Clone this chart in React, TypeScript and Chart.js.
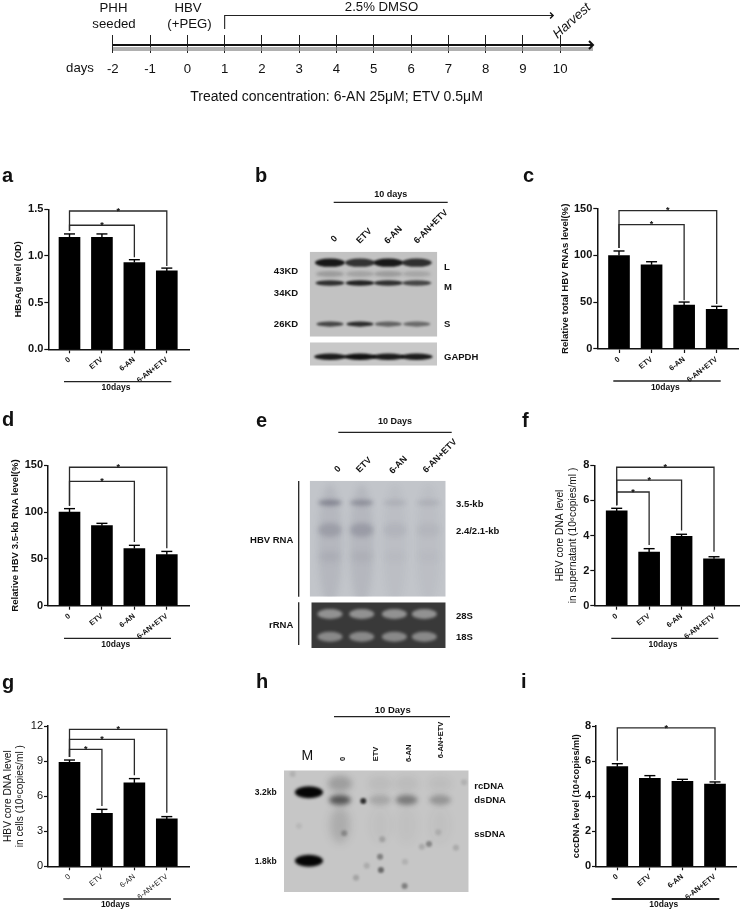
import React, { useEffect, useRef } from "react";
import { Chart } from "chart.js/auto";

const FONT = '"Liberation Sans", Arial, sans-serif';
const W = 740;
const H = 911;

// ---------- data ----------
const categories = ["0", "ETV", "6-AN", "6-AN+ETV"];
const groupLabel = "10days";

const aValues = [1.2, 1.2, 0.93, 0.84];
const aErrors = [0.036, 0.036, 0.03, 0.03];
const aBrackets = [{ to: 3, top: 1.482, drop: 0.893 }, { to: 2, top: 1.329, drop: 0.986 }];

const cValues = [100, 90, 47, 42.5];
const cErrors = [4.8, 3.3, 3.2, 3.1];
const cBrackets = [{ to: 3, top: 147.9, drop: 48 }, { to: 2, top: 132.9, drop: 52 }];

const dValues = [100, 85.5, 61, 54.5];
const dErrors = [3.7, 2.5, 3.5, 3.5];
const dBrackets = [{ to: 3, top: 147.9, drop: 61.3 }, { to: 2, top: 132.9, drop: 68 }];

const fValues = [5.4, 3.05, 3.95, 2.67];
const fErrors = [0.15, 0.2, 0.12, 0.12];
const fBrackets = [{ to: 3, top: 7.89, drop: 3.08 }, { to: 2, top: 7.16, drop: 4.28 }, { to: 1, top: 6.48, drop: 3.46 }];

const gValues = [8.89, 4.53, 7.13, 4.05];
const gErrors = [0.2, 0.34, 0.37, 0.2];
const gBrackets = [{ to: 3, top: 11.71, drop: 4.59 }, { to: 2, top: 10.86, drop: 7.78 }, { to: 1, top: 10.0, drop: 5.16 }];

const iValues = [5.68, 5.02, 4.85, 4.69];
const iErrors = [0.17, 0.15, 0.11, 0.12];
const iBrackets = [{ to: 3, top: 7.89, drop: 4.92 }];

const timelineDays = [-2, -1, 0, 1, 2, 3, 4, 5, 6, 7, 8, 9, 10];

// blot lanes and band strengths (position as % of the membrane)
const bLanes = [15.9, 39.4, 61.6, 83.9];
const bL = [0.92, 0.78, 0.92, 0.8];
const bFaint = [0.22, 0.18, 0.22, 0.16];
const bM = [0.8, 0.88, 0.8, 0.68];
const bS = [0.68, 0.82, 0.52, 0.48];
const bGapdh = [0.9, 0.95, 0.9, 0.9];

const eLanes = [14.9, 38.2, 62.7, 87.2];
const eSmear = [0.1, 0.1, 0.05, 0.05];
const e35 = [0.38, 0.3, 0.1, 0.1];
const e24 = [0.2, 0.22, 0.07, 0.06];
const eLow = [0.09, 0.07, 0.03, 0.03];
const rLanes = [13.9, 37.5, 61.8, 84.1];
const r28 = [0.5, 0.5, 0.5, 0.5];
const r18 = [0.45, 0.45, 0.45, 0.45];

const hMarkerX = 13.5;
const hMarkerY = [18, 74.3];
const hLanes = [30.3, 52, 66.4, 84.5];
const hDs = [0.62, 0.18, 0.42, 0.28];
const hRc = [0.25, 0.06, 0.06, 0.05];
const hSmear = [0.16, 0.03, 0.04, 0.03];
const hSpots = [
  { x: 42.9, y: 25.2, v: 0.9 }, { x: 32.6, y: 51.8, v: 0.28 }, { x: 53.2, y: 56.7, v: 0.2 },
  { x: 78.5, y: 60.6, v: 0.38 }, { x: 74.6, y: 62.8, v: 0.16 }, { x: 83.5, y: 50.9, v: 0.12 },
  { x: 93.1, y: 63.6, v: 0.16 }, { x: 52, y: 71, v: 0.42 }, { x: 52.5, y: 81.9, v: 0.55 },
  { x: 44.8, y: 78.4, v: 0.15 }, { x: 39, y: 88.3, v: 0.2 }, { x: 65.5, y: 75.1, v: 0.12 },
  { x: 65.3, y: 95.1, v: 0.42 }, { x: 4.7, y: 3, v: 0.12 }, { x: 97.5, y: 9.9, v: 0.12 }, { x: 8.1, y: 45.8, v: 0.08 },
];

const row = (lanes: number[], y: number, vals: number[]) => vals.map((v, i) => ({ x: lanes[i], y, v }));

// ---------- text helper ----------
type TOpt = { font?: string; align?: CanvasTextAlign; rot?: number; base?: CanvasTextBaseline };
function T(ctx: CanvasRenderingContext2D, s: string, x: number, y: number, o: TOpt = {}) {
  ctx.save();
  ctx.translate(x, y);
  if (o.rot) ctx.rotate((o.rot * Math.PI) / 180);
  ctx.font = o.font || `bold 9.5px ${FONT}`;
  ctx.textAlign = o.align || "center";
  ctx.textBaseline = o.base || "middle";
  ctx.fillStyle = "#111";
  ctx.fillText(s, 0, 0);
  ctx.restore();
}
function L(ctx: CanvasRenderingContext2D, x1: number, y1: number, x2: number, y2: number, w = 1.2, c = "#222") {
  ctx.save();
  ctx.strokeStyle = c;
  ctx.lineWidth = w;
  ctx.beginPath();
  ctx.moveTo(x1, y1);
  ctx.lineTo(x2, y2);
  ctx.stroke();
  ctx.restore();
}

// ---------- bar panels ----------
type BarCfg = {
  values: number[]; errors: number[]; brackets: { to: number; top: number; drop: number }[];
  max: number; step: number; decimals: number; title: string[]; titleX: number; titleWeight: string; titleSize: number; tickFont: string;
  axisX: number; xEnd: number; top: number; bottom: number; c0: number; c3: number;
  line: [number, number, number]; labelX: number; labelY: number; lineW?: number;
};
const barPanels: BarCfg[] = [
  { values: aValues, errors: aErrors, brackets: aBrackets, max: 1.5, step: 0.5, decimals: 1, title: ["HBsAg level (OD)"], titleX: 19, titleWeight: "bold", titleSize: 9.2, tickFont: "bold",
    axisX: 48.3, xEnd: 189, top: 209.3, bottom: 349.3, c0: 69.5, c3: 166.8, line: [64, 171.3, 381.7], labelX: 116, labelY: 387.7 },
  { values: cValues, errors: cErrors, brackets: cBrackets, max: 150, step: 50, decimals: 0, title: ["Relative total HBV RNAs level(%)"], titleX: 565, titleWeight: "bold", titleSize: 9.6, tickFont: "bold",
    axisX: 597.3, xEnd: 738.7, top: 208.7, bottom: 349, c0: 619, c3: 716.7, line: [613.3, 720.7, 381], labelX: 665.3, labelY: 387.7 },
  { values: dValues, errors: dErrors, brackets: dBrackets, max: 150, step: 50, decimals: 0, title: ["Relative HBV 3.5-kb RNA level(%)"], titleX: 15, titleWeight: "bold", titleSize: 9.6, tickFont: "bold",
    axisX: 48, xEnd: 189, top: 465.3, bottom: 605.7, c0: 69.5, c3: 166.8, line: [64, 171, 638.3], labelX: 115.7, labelY: 644.3 },
  { values: fValues, errors: fErrors, brackets: fBrackets, max: 8, step: 2, decimals: 0, title: ["HBV core DNA level", "in supernatant (10\u2076copies/ml )"], titleX: 560, titleWeight: "normal", titleSize: 10.2, tickFont: "bold",
    axisX: 594.3, xEnd: 740, top: 465.3, bottom: 605.7, c0: 616.7, c3: 714, line: [611.3, 718.3, 638.3], labelX: 663, labelY: 644.3 },
  { values: gValues, errors: gErrors, brackets: gBrackets, max: 12, step: 3, decimals: 0, title: ["HBV core DNA level", "in cells (10\u2076copies/ml )"], titleX: 7.3, titleWeight: "normal", titleSize: 10.2, tickFont: "normal",
    axisX: 48, xEnd: 189, top: 726, bottom: 866.3, c0: 69.5, c3: 166.8, line: [63.3, 171, 899], labelX: 115.3, labelY: 905 },
  { values: iValues, errors: iErrors, brackets: iBrackets, max: 8, step: 2, decimals: 0, title: ["cccDNA level (10\u2074copies/ml)"], titleX: 576.7, titleWeight: "bold", titleSize: 9.2, tickFont: "bold",
    axisX: 596, xEnd: 736, top: 726, bottom: 866.3, c0: 617.3, c3: 715, line: [611.7, 719.3, 899], labelX: 663.7, labelY: 905, lineW: 2 },
];

function makeBar(canvas: HTMLCanvasElement, p: BarCfg) {
  const s = (p.c3 - p.c0) / 3;
  const overlay = {
    id: "overlay",
    afterDatasetsDraw(chart: any) {
      const { ctx, scales: { x, y } } = chart;
      // error bars
      p.values.forEach((v, i) => {
        const cx = x.getPixelForValue(i);
        const ty = y.getPixelForValue(v + p.errors[i]);
        L(ctx, cx, y.getPixelForValue(v), cx, ty, 1.4, "#000");
        L(ctx, cx - 5.5, ty, cx + 5.5, ty, 1.4, "#000");
      });
      // significance brackets
      const x0 = x.getPixelForValue(0);
      const leftEnd = y.getPixelForValue(p.values[0] + p.errors[0]) - 3;
      p.brackets.forEach((b) => {
        const yy = y.getPixelForValue(b.top);
        const xx = x.getPixelForValue(b.to);
        ctx.save();
        ctx.strokeStyle = "#2a2a2a";
        ctx.lineWidth = 1.3;
        ctx.beginPath();
        ctx.moveTo(x0, leftEnd);
        ctx.lineTo(x0, yy);
        ctx.lineTo(xx, yy);
        ctx.lineTo(xx, y.getPixelForValue(b.drop));
        ctx.stroke();
        ctx.restore();
        T(ctx, "*", (x0 + xx) / 2, yy + 2.7, { font: `bold 9px ${FONT}`, base: "alphabetic" });
      });
      // group line
      L(ctx, p.line[0], p.line[2], p.line[1], p.line[2], p.lineW || 1.3, "#222");
      T(ctx, groupLabel, p.labelX, p.labelY, { font: `bold 8.5px ${FONT}` });
    },
  };
  return new Chart(canvas, {
    type: "bar",
    data: {
      datasets: [{
        data: p.values.map((v, i) => ({ x: i, y: v })),
        backgroundColor: "#000",
        barThickness: 21,
      }],
    } as any,
    options: {
      responsive: false,
      animation: false,
      devicePixelRatio: 1,
      layout: { padding: { left: 0, top: p.top, right: W - p.xEnd, bottom: H - p.bottom - 40 } },
      plugins: { legend: { display: false }, tooltip: { enabled: false } },
      scales: {
        x: {
          type: "linear",
          offset: false,
          min: -(p.c0 - p.axisX) / s,
          max: 3 + (p.xEnd - p.c3) / s,
          grid: { offset: false, drawOnChartArea: false, tickLength: 4, tickColor: "#111", tickWidth: 1.2 },
          border: { color: "#111", width: 1.5 },
          afterFit: (sc: any) => { sc.height = 40; sc.paddingLeft = 0; sc.paddingRight = 0; },
          ticks: {
            stepSize: 1,
            includeBounds: false,
            autoSkip: false,
            maxRotation: 38,
            minRotation: 38,
            padding: 2,
            color: "#111",
            font: { family: FONT, size: 7.5, weight: p.tickFont === "bold" ? "bold" : "normal" },
            callback: (v: any) => categories[v] ?? "",
          },
        },
        y: {
          min: 0,
          max: p.max,
          grid: { drawOnChartArea: false, tickLength: 4, tickColor: "#111", tickWidth: 1.2 },
          border: { color: "#111", width: 1.5 },
          afterFit: (sc: any) => { sc.width = p.axisX; sc.paddingTop = 0; sc.paddingBottom = 0; },
          ticks: {
            stepSize: p.step,
            padding: 1,
            color: "#111",
            font: { family: FONT, size: 11, weight: p.tickFont === "bold" ? "bold" : "normal" },
            callback: (v: any) => Number(v).toFixed(p.decimals),
          },
          title: {
            display: true,
            text: p.title,
            color: "#111",
            font: { family: FONT, size: p.titleSize, weight: p.titleWeight },
            padding: { top: p.titleX - 5.6, bottom: 0 },
          },
        },
      },
    } as any,
    plugins: [overlay],
  });
}

// ---------- blot panels ----------
type BlotSet = { data: { x: number; y: number; v: number }[]; rx: number; ry: number; blur: number; rgb: string };
type BlotCfg = { rect: [number, number, number, number]; bg: string; sets: BlotSet[] };
const blots: BlotCfg[] = [
  { rect: [309.7, 251.7, 437.3, 336.7], bg: "#c2c2c2", sets: [
    { data: row(bLanes, 12.9, bL), rx: 15, ry: 4.2, blur: 1.2, rgb: "10,10,10" },
    { data: row(bLanes, 26.2, bFaint), rx: 14, ry: 3, blur: 1.5, rgb: "20,20,20" },
    { data: row(bLanes, 36.8, bM), rx: 14.5, ry: 2.8, blur: 1.1, rgb: "10,10,10" },
    { data: row(bLanes, 85.1, bS), rx: 13.5, ry: 2.6, blur: 1.1, rgb: "10,10,10" },
  ] },
  { rect: [310, 342.3, 437, 365.7], bg: "#c8c8c8", sets: [
    { data: row(bLanes, 61.5, bGapdh), rx: 16, ry: 3.2, blur: 1.1, rgb: "10,10,10" },
  ] },
  { rect: [309.7, 480.7, 445.7, 596.7], bg: "#c2c5ca", sets: [
    { data: row(eLanes, 55, eSmear), rx: 12, ry: 60, blur: 3, rgb: "70,70,90" },
    { data: row(eLanes, 19, e35), rx: 12, ry: 3, blur: 2, rgb: "50,50,70" },
    { data: row(eLanes, 42.5, e24), rx: 12, ry: 7, blur: 2.5, rgb: "60,60,80" },
    { data: row(eLanes, 65.5, eLow), rx: 11, ry: 5, blur: 3, rgb: "70,70,90" },
  ] },
  { rect: [311.3, 602.3, 445.7, 648], bg: "#393939", sets: [
    { data: row(rLanes, 25.6, r28), rx: 12.5, ry: 5, blur: 1.5, rgb: "235,235,235" },
    { data: row(rLanes, 75.3, r18), rx: 12.5, ry: 5, blur: 1.5, rgb: "235,235,235" },
  ] },
  { rect: [284, 770.3, 468.7, 892], bg: "#c6c6c6", sets: [
    { data: row(hLanes, 11, hRc), rx: 12, ry: 8, blur: 3, rgb: "40,40,40" },
    { data: row(hLanes, 45, hSmear), rx: 10, ry: 18, blur: 4, rgb: "40,40,40" },
    { data: row(hLanes, 24.4, hDs), rx: 11, ry: 5, blur: 2.5, rgb: "20,20,20" },
    { data: hMarkerY.map((y) => ({ x: hMarkerX, y, v: 1 })), rx: 14, ry: 6, blur: 1.6, rgb: "5,5,5" },
    { data: hSpots, rx: 3, ry: 3, blur: 1, rgb: "30,30,30" },
  ] },
];

function makeBlot(canvas: HTMLCanvasElement, b: BlotCfg) {
  const painter = {
    id: "painter",
    beforeDatasetsDraw(chart: any) {
      const { ctx, chartArea: a, scales: { x, y } } = chart;
      ctx.save();
      ctx.beginPath();
      ctx.rect(a.left, a.top, a.right - a.left, a.bottom - a.top);
      ctx.clip();
      ctx.fillStyle = b.bg;
      ctx.fillRect(a.left, a.top, a.right - a.left, a.bottom - a.top);
      chart.data.datasets.forEach((ds: any) => {
        ctx.filter = `blur(${ds.blur}px)`;
        ds.data.forEach((p: any) => {
          ctx.fillStyle = `rgba(${ds.rgb},${p.v})`;
          ctx.beginPath();
          ctx.ellipse(x.getPixelForValue(p.x), y.getPixelForValue(p.y), ds.rx, ds.ry, 0, 0, Math.PI * 2);
          ctx.fill();
        });
      });
      ctx.restore();
    },
  };
  return new Chart(canvas, {
    type: "scatter",
    data: { datasets: b.sets.map((s) => ({ ...s, pointRadius: 0, showLine: false })) } as any,
    options: {
      responsive: false,
      animation: false,
      devicePixelRatio: 1,
      layout: { padding: { left: b.rect[0], top: b.rect[1], right: W - b.rect[2], bottom: H - b.rect[3] } },
      plugins: { legend: { display: false }, tooltip: { enabled: false } },
      scales: {
        x: { display: false, min: 0, max: 100 },
        y: { display: false, min: 0, max: 100, reverse: true },
      },
    } as any,
    plugins: [painter],
  });
}

// ---------- timeline + all free-standing text ----------
function makeTimeline(canvas: HTMLCanvasElement) {
  const endDay = 10.88;
  const annotate = {
    id: "annotate",
    afterDraw(chart: any) {
      const { ctx, scales: { x, y } } = chart;
      const chev = (px: number, py: number, sz: number, w: number) => {
        ctx.save();
        ctx.strokeStyle = "#111";
        ctx.lineWidth = w;
        ctx.beginPath();
        ctx.moveTo(px - sz, py - sz);
        ctx.lineTo(px, py);
        ctx.lineTo(px - sz, py + sz);
        ctx.stroke();
        ctx.restore();
      };
      chev(x.getPixelForValue(endDay), y.getPixelForValue(8), 4, 2);
      chev(x.getPixelForValue(9.81), y.getPixelForValue(37.5), 3, 1.4);

      const reg = (s: number) => `${s}px ${FONT}`;
      T(ctx, "PHH", 113.5, 8, { font: reg(13.2) });
      T(ctx, "seeded", 114, 24, { font: reg(13.2) });
      T(ctx, "HBV", 188, 8, { font: reg(13.2) });
      T(ctx, "(+PEG)", 189.5, 24, { font: reg(13.2) });
      T(ctx, "2.5% DMSO", 381.5, 7, { font: reg(13.2) });
      T(ctx, "Harvest", 572, 21, { font: `italic 13.2px ${FONT}`, rot: -42 });
      T(ctx, "days", 80, 68, { font: reg(13.2) });
      T(ctx, "Treated concentration: 6-AN 25\u03bcM; ETV 0.5\u03bcM", 336.5, 96.7, { font: reg(14) });

      const big = `bold 20px ${FONT}`;
      ([["a", 2, 176], ["b", 255, 176], ["c", 523, 176], ["d", 2, 420], ["e", 256, 421], ["f", 522, 421], ["g", 2, 683], ["h", 256, 682], ["i", 521, 682]] as [string, number, number][])
        .forEach(([s, px, py]) => T(ctx, s, px, py, { font: big, align: "left" }));

      // b
      T(ctx, "10 days", 390.7, 194.3, { font: `bold 9px ${FONT}` });
      L(ctx, 333.7, 202.3, 447.7, 202.3, 1.3);
      ([[334.3, 239], [364.3, 236], [393.3, 235], [431, 226.7]] as number[][]).forEach(([px, py], i) =>
        T(ctx, categories[i], px, py, { font: `bold 9px ${FONT}`, rot: -45 }));
      [["43KD", 271.7], ["34KD", 293.7], ["26KD", 324]].forEach(([s, py]) => T(ctx, s as string, 286, py as number, { font: `bold 9.5px ${FONT}` }));
      [["L", 267.3], ["M", 287.7], ["S", 324], ["GAPDH", 357.3]].forEach(([s, py]) => T(ctx, s as string, 444, py as number, { font: `bold 9.5px ${FONT}`, align: "left" }));

      // e
      T(ctx, "10 Days", 395, 421.7, { font: `bold 9px ${FONT}` });
      L(ctx, 338.3, 432.3, 451.7, 432.3, 1.3);
      ([[337.7, 469.3], [364, 465], [398.3, 465], [440, 456]] as number[][]).forEach(([px, py], i) =>
        T(ctx, categories[i], px, py, { font: `bold 9px ${FONT}`, rot: -45 }));
      L(ctx, 298.7, 481, 298.7, 596.7, 1.3);
      L(ctx, 298.7, 602.3, 298.7, 645, 1.3);
      T(ctx, "HBV RNA", 293.3, 540, { font: `bold 9.5px ${FONT}`, align: "right" });
      T(ctx, "rRNA", 293.3, 625.7, { font: `bold 9.5px ${FONT}`, align: "right" });
      [["3.5-kb", 504.3], ["2.4/2.1-kb", 531.7], ["28S", 616.7], ["18S", 637.7]].forEach(([s, py]) =>
        T(ctx, s as string, 456, py as number, { font: `bold 9.5px ${FONT}`, align: "left" }));

      // h
      T(ctx, "10 Days", 392.7, 710.7, { font: `bold 9.5px ${FONT}` });
      L(ctx, 334, 716.7, 450, 716.7, 1.2);
      T(ctx, "M", 307.3, 756, { font: reg(14) });
      ([[342.7, 759], [376, 754], [409, 753.3], [440.7, 740]] as number[][]).forEach(([px, py], i) =>
        T(ctx, categories[i], px, py, { font: `bold 7.5px ${FONT}`, rot: -90 }));
      T(ctx, "3.2kb", 265.7, 792.7, { font: `bold 8.5px ${FONT}` });
      T(ctx, "1.8kb", 265.7, 861.3, { font: `bold 8.5px ${FONT}` });
      [["rcDNA", 786.3], ["dsDNA", 800.7], ["ssDNA", 834.7]].forEach(([s, py]) =>
        T(ctx, s as string, 474.3, py as number, { font: `bold 9.5px ${FONT}`, align: "left" }));
    },
  };
  return new Chart(canvas, {
    type: "line",
    data: {
      datasets: [
        { data: [{ x: timelineDays[0], y: 4 }, { x: endDay, y: 4 }], borderColor: "rgba(150,150,150,0.75)", borderWidth: 4, pointRadius: 0 },
        { data: [{ x: timelineDays[0], y: 8 }, { x: endDay, y: 8 }], borderColor: "#111", borderWidth: 2, pointRadius: 0 },
        { data: [{ x: 1, y: 24 }, { x: 1, y: 37.5 }, { x: 9.81, y: 37.5 }], borderColor: "#222", borderWidth: 1.1, pointRadius: 0, clip: false },
      ],
    } as any,
    options: {
      responsive: false,
      animation: false,
      devicePixelRatio: 1,
      layout: { padding: { left: 112.8, top: 35, right: W - 593, bottom: H - 53 - 30 } },
      plugins: { legend: { display: false }, tooltip: { enabled: false } },
      scales: {
        x: {
          type: "linear",
          min: timelineDays[0],
          max: endDay,
          grid: { color: "#222", lineWidth: 1, tickLength: 0, drawTicks: false },
          border: { display: false },
          afterFit: (sc: any) => { sc.height = 30; sc.paddingLeft = 0; sc.paddingRight = 0; },
          ticks: {
            stepSize: 1,
            includeBounds: false,
            maxRotation: 0,
            padding: 8,
            color: "#111",
            font: { family: FONT, size: 13.2 },
            callback: (v: any) => (timelineDays.includes(v) ? String(v) : ""),
          },
        },
        y: { display: false, min: 0, max: 18 },
      },
    } as any,
    plugins: [annotate],
  });
}

function Layer({ make }: { make: (c: HTMLCanvasElement) => Chart }) {
  const ref = useRef<HTMLCanvasElement>(null);
  useEffect(() => {
    const chart = make(ref.current!);
    return () => chart.destroy();
  }, []);
  return <canvas ref={ref} width={W} height={H} style={{ position: "absolute", left: 0, top: 0, width: W, height: H }} />;
}

export default function App() {
  return (
    <div style={{ position: "absolute", left: 0, top: 0, width: W, height: H, overflow: "hidden", background: "#fff", filter: "blur(0.35px)" }}>
      {blots.map((b, i) => <Layer key={"b" + i} make={(c) => makeBlot(c, b)} />)}
      {barPanels.map((p, i) => <Layer key={"p" + i} make={(c) => makeBar(c, p)} />)}
      <Layer make={makeTimeline} />
    </div>
  );
}
